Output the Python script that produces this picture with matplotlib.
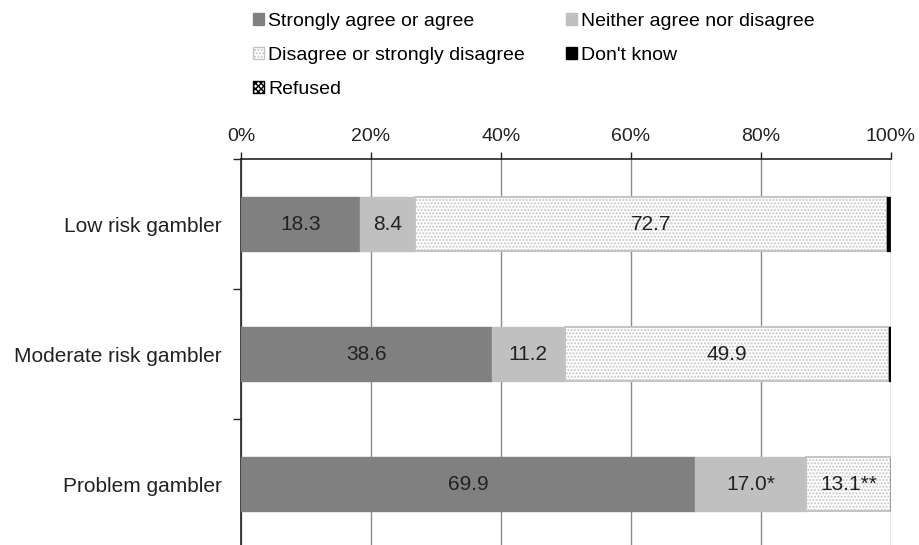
import numpy as np
import matplotlib.pyplot as plt
from matplotlib.patches import Patch

plt.rcParams['font.family'] = ['Liberation Sans', 'DejaVu Sans']
plt.rcParams['hatch.linewidth'] = 1.0

# data
groups = ['Low risk gambler', 'Moderate risk gambler', 'Problem gambler']
agree = [18.3, 38.6, 69.9]
neither = [8.4, 11.2, 17.0]
disagree = [72.7, 49.9, 13.1]
dont_know = [0.4, 0.3, 0.0]
refused = [0.2, 0.0, 0.0]
labels_agree = ['18.3', '38.6', '69.9']
labels_neither = ['8.4', '11.2', '17.0*']
labels_disagree = ['72.7', '49.9', '13.1**']

series_names = ['Strongly agree or agree', 'Neither agree nor disagree',
                'Disagree or strongly disagree', "Don't know", 'Refused']

fig = plt.figure(figsize=(9.2, 5.45), dpi=100)
ax = fig.add_axes([241/920, -4/545, 650/920, 390/545])

y = np.arange(len(groups))
h = 0.42
left = np.zeros(len(groups))

styles = [
    dict(color='#808080', edgecolor='#808080'),
    dict(color='#c0c0c0', edgecolor='#c0c0c0'),
    dict(facecolor='white', edgecolor='#c4c4c4', hatch='.....', linewidth=1.5),
    dict(color='black', edgecolor='black'),
    dict(facecolor='white', edgecolor='black', hatch='xxxxxx', linewidth=0.5),
]
values = [agree, neither, disagree, dont_know, refused]
texts = [labels_agree, labels_neither, labels_disagree, None, None]

handles = []
for vals, st, txt, name in zip(values, styles, texts, series_names):
    bars = ax.barh(y, vals, height=h, left=left, zorder=3, **st)
    if txt is not None:
        for b, t in zip(bars, txt):
            ax.text(b.get_x() + b.get_width()/2, b.get_y() + b.get_height()/2, t,
                    ha='center', va='center', fontsize=15, color='#222222', zorder=4)
    left = left + np.array(vals)
    handles.append(Patch(label=name, **{k: v for k, v in st.items() if k != 'linewidth'}))

ax.set_xlim(0, 100)
ax.set_ylim(2.5, -0.5)
ax.set_xticks(np.arange(0, 101, 20))
ax.set_xticklabels([f'{v}%' for v in range(0, 101, 20)])
ax.xaxis.tick_top()
ax.tick_params(axis='x', length=5, width=1, color='#222222', pad=5,
               labelsize=14, labelcolor='#222222')
ax.set_yticks(y)
ax.set_yticklabels(groups)
ax.set_yticks([-0.5, 0.5, 1.5], minor=True)
ax.tick_params(axis='y', which='major', length=0, pad=14, labelsize=15, colors='#222222')
ax.tick_params(axis='y', which='minor', length=6, width=1, color='#222222')
ax.grid(axis='x', color='#8c8c8c', linewidth=1, zorder=0)
for s in ['right', 'bottom']:
    ax.spines[s].set_visible(False)
for s in ['top', 'left']:
    ax.spines[s].set_color('#222222')
    ax.spines[s].set_linewidth(1.2)

order = [0, 2, 4, 1, 3]
fig.legend([handles[i] for i in order], [series_names[i] for i in order],
           ncol=2, loc='upper left', bbox_to_anchor=(240/920, 1.0),
           frameon=False, fontsize=14, handlelength=0.6, handleheight=0.6,
           handletextpad=0.2, labelspacing=0.88, columnspacing=2.1,
           borderaxespad=0.25)

fig.savefig('out.png', dpi=100)
